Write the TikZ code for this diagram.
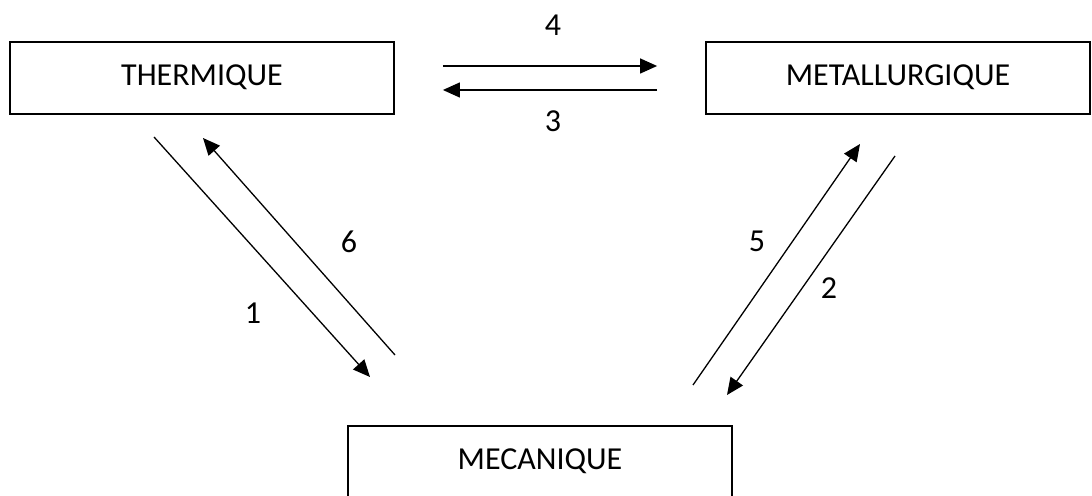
\documentclass[tikz,border=0pt]{standalone}
\usepackage{fontspec}
\setmainfont{Carlito}
\usetikzlibrary{arrows.meta}

\tikzset{
  bloc/.style  = {draw, line width=0.9pt, minimum width=192pt, minimum height=36pt,
                  inner sep=0pt, text height=11pt, text depth=3.5pt, font=\fontsize{16}{19}\selectfont},
  fleche/.style = {line width=0.65pt, -{Triangle[length=8.5pt, width=7.5pt]}},
  num/.style   = {inner sep=0pt, font=\fontsize{16}{19}\selectfont}
}

\begin{document}
\begin{tikzpicture}[x=0.5pt, y=-0.5pt]
  \useasboundingbox (0,0) rectangle (1092,496);
  % les trois blocs
  \node [bloc] (therm) at (202,78)  {THERMIQUE};
  \node [bloc] (metal) at (898,78)  {METALLURGIQUE};
  \node [bloc] (meca)  at (540,462) {MECANIQUE};
  % extremites des fleches obliques
  \coordinate (a1) at (154,137); \coordinate (b1) at (370,377);
  \coordinate (a6) at (395,355); \coordinate (b6) at (203,138);
  \coordinate (a5) at (693,385); \coordinate (b5) at (860,144);
  \coordinate (a2) at (895,156); \coordinate (b2) at (727,395);
  % fleches
  \draw [fleche, shorten <=24pt, shorten >=24pt] ([yshift=6pt]therm.east) -- ([yshift=6pt]metal.west);
  \draw [fleche, shorten <=24pt, shorten >=24pt] ([yshift=-6pt]metal.west) -- ([yshift=-6pt]therm.east);
  \draw [fleche] (a1) -- (b1);
  \draw [fleche] (a6) -- (b6);
  \draw [fleche] (a5) -- (b5);
  \draw [fleche] (a2) -- (b2);
  % numeros
  \node [num] (n4) at (553,25)  {4};
  \node [num] (n3) at (553,121) {3};
  \node [num] (n6) at (349,242) {6};
  \node [num] (n1) at (253,313) {1};
  \node [num] (n5) at (757,241) {5};
  \node [num] (n2) at (829,288) {2};
\end{tikzpicture}
\end{document}
